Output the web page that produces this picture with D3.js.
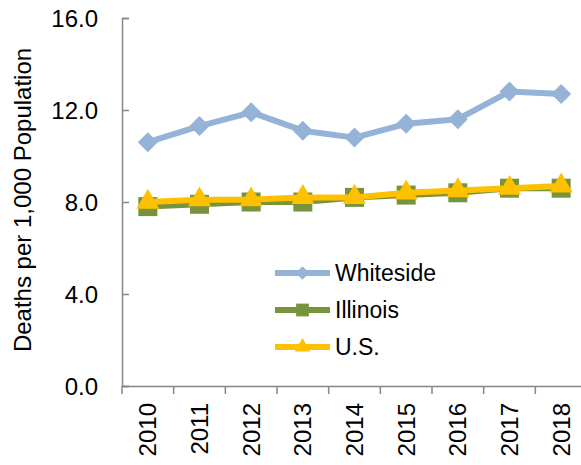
<!doctype html>
<html>

<head>
  <meta charset="utf-8">
  <title>d3</title>
  <style>
    body { margin: 0; background: #fff; }
    text { font-family: 'Liberation Sans', Arial, sans-serif; fill: #000; }
  </style>
</head>

<body>
  <svg width="581" height="465"></svg>

  <script src="https://d3js.org/d3.v7.min.js"></script>
  <script>
    const years = ['2010', '2011', '2012', '2013', '2014', '2015', '2016', '2017', '2018'];
    const whiteside = [10.6, 11.3, 11.9, 11.1, 10.8, 11.4, 11.6, 12.8, 12.7];
    const illinois = [7.8, 7.9, 8.0, 8.0, 8.2, 8.3, 8.4, 8.6, 8.6];
    const us = [8.0, 8.1, 8.1, 8.2, 8.2, 8.4, 8.5, 8.6, 8.7];
    const yTicks = [0, 4, 8, 12, 16];

    // diamond = square turned 45deg
    const series = [
      { name: 'Whiteside', values: whiteside, color: '#95B3D7', symbol: d3.symbolSquare, size: 200, rot: 45 },
      { name: 'Illinois', values: illinois, color: '#77933C', symbol: d3.symbolSquare, size: 361, rot: 0 },
      { name: 'U.S.', values: us, color: '#FFC000', symbol: d3.symbolTriangle, size: 230, rot: 0 }
    ];

    const svg = d3.select('svg');
    const margin = { top: 18, left: 122, bottom: 79, right: -6 };
    const width = +svg.attr('width') - margin.left - margin.right;
    const height = +svg.attr('height') - margin.top - margin.bottom;
    const g = svg.append('g').attr('transform', `translate(${margin.left}, ${margin.top})`);

    const x = d3.scaleBand().domain(years).range([0, width]);
    const y = d3.scaleLinear().domain([0, 16]).range([height, 0]);
    const line = d3.line()
      .x((d, i) => x(years[i]) + x.bandwidth() / 2)
      .y(d => y(d));

    // y axis
    const yAxis = g.append('g')
      .call(d3.axisRight(y).tickValues(yTicks).tickFormat(d3.format('.1f')).tickSize(7))
    yAxis.selectAll('text').attr('x', -24).attr('text-anchor', 'end').style('font-size', '24px').attr('dy', '0.35em');
    yAxis.selectAll('line, path').attr('stroke', '#868686').attr('stroke-width', 1.5);

    // x axis
    const xAxis = g.append('g')
      .attr('transform', `translate(0, ${height})`)
      .call(d3.axisBottom(x).tickSize(0));
    xAxis.select('.domain').attr('stroke', '#868686').attr('stroke-width', 1.5);
    xAxis.selectAll('text')
      .style('font-size', '24px')
      .attr('transform', 'rotate(-90)')
      .attr('text-anchor', 'end')
      .attr('x', -17).attr('y', 0).attr('dy', '0.35em');
    xAxis.selectAll('.sep')
      .data(years)
      .enter().append('line')
      .attr('x1', d => x(d)).attr('x2', d => x(d))
      .attr('y1', 0).attr('y2', 8)
      .attr('stroke', '#868686').attr('stroke-width', 1.5);

    // y label
    g.append('text')
      .attr('transform', 'rotate(-90)')
      .attr('x', -(200 - margin.top))
      .attr('y', -99)
      .attr('dy', '0.35em')
      .attr('text-anchor', 'middle')
      .style('font-size', '24px')
      .text('Deaths per 1,000 Population');

    // lines + markers
    series.forEach(s => {
      g.append('path')
        .datum(s.values)
        .attr('fill', 'none')
        .attr('stroke', s.color)
        .attr('stroke-width', 6)
        .attr('stroke-linejoin', 'round')
        .attr('d', line);
      g.selectAll(null)
        .data(s.values)
        .enter().append('path')
        .attr('transform', (d, i) => `translate(${x(years[i]) + x.bandwidth() / 2}, ${y(d)}) rotate(${s.rot})`)
        .attr('d', d3.symbol().type(s.symbol).size(s.size))
        .attr('fill', s.color);
    });

    // legend
    const legend = g.append('g').attr('transform', 'translate(153, 255)');
    series.forEach((s, i) => {
      const row = legend.append('g').attr('transform', `translate(0, ${i * 37})`);
      row.append('line')
        .attr('x1', 0).attr('x2', 55)
        .attr('stroke', s.color).attr('stroke-width', 6);
      row.append('path')
        .attr('transform', `translate(27.5, 0) rotate(${s.rot})`)
        .attr('d', d3.symbol().type(s.symbol).size(s.size * 0.45))
        .attr('fill', s.color);
      row.append('text')
        .attr('x', 60)
        .attr('dy', '0.35em')
        .style('font-size', '23px')
        .text(s.name);
    });
  </script>
</body>

</html>
